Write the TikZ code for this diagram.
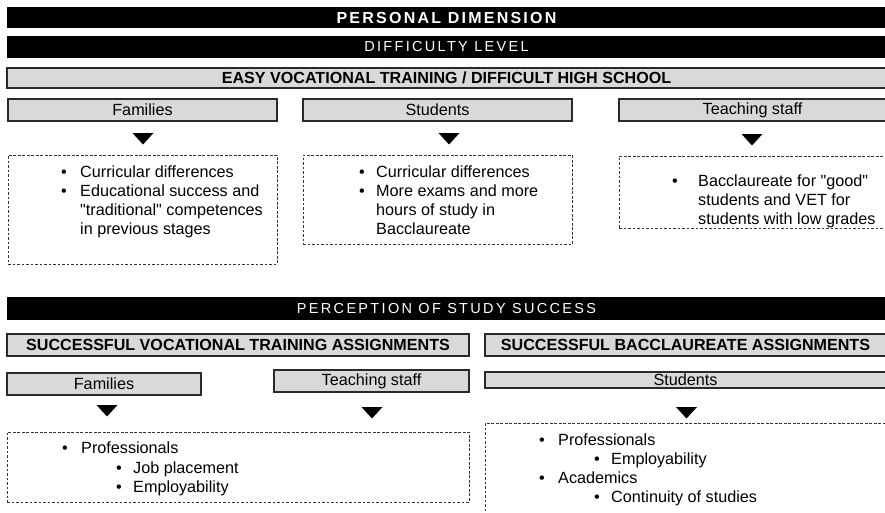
\documentclass[tikz,border=0pt]{standalone}
\usepackage{fontspec}
\setmainfont{Liberation Sans}[Ligatures=TeXOff]
\newfontfamily\spacedA{Liberation Sans}[LetterSpace=14]
\newfontfamily\spacedB{Liberation Sans}[LetterSpace=16]
\definecolor{boxfill}{HTML}{D9D9D9}
\definecolor{boxline}{HTML}{2A2A2A}
\definecolor{dashline}{HTML}{333333}
\tikzset{
  blackbar/.style={fill=black,text=white,inner sep=0pt,minimum width=879pt},
  graybox/.style={draw=boxline,line width=1.2pt,fill=boxfill,inner sep=0pt,font=\fontsize{16.2}{19}\selectfont},
  grayhead/.style={graybox,font=\fontsize{16.1}{19}\selectfont\bfseries},
  dashbox/.style={draw=dashline,line width=0.9pt,dash pattern=on 2.8pt off 1.7pt,inner sep=0pt},
  txt/.style={anchor=base west,inner sep=0pt,font=\fontsize{16.2}{19}\selectfont},
  marker/.style={fill=black}
}
\newcommand\marktri[1]{\fill[marker] ([xshift=-10.5pt]#1) -- ([xshift=10.5pt]#1) -- ([yshift=-11.5pt]#1) -- cycle;}
\begin{document}
\begin{tikzpicture}[x=1pt,y=-1pt]
\useasboundingbox (0,0) rectangle (885,512);
\clip (0,0) rectangle (885,512);
% black bars
\node[blackbar,minimum height=21pt,font=\fontsize{16}{18}\selectfont\spacedA\bfseries] (pd) at (446.5,17.5) {PERSONAL DIMENSION};
\node[blackbar,minimum height=22pt,font=\fontsize{14.5}{16}\selectfont\spacedB] (dl) at (446.5,47) {DIFFICULTY LEVEL};
\node[blackbar,minimum height=23pt,font=\fontsize{14.5}{16}\selectfont\spacedB] (ps) at (446.5,308.5) {PERCEPTION OF STUDY SUCCESS};
% gray headers
\node[grayhead,minimum width=879pt,minimum height=20pt] (easy) at (446.5,78) {EASY VOCATIONAL TRAINING / DIFFICULT HIGH SCHOOL};
\node[graybox,minimum width=269pt,minimum height=22pt] (fam1) at (142.5,110) {Families};
\node[graybox,minimum width=269pt,minimum height=22pt] (stu1) at (437.5,110) {Students};
\node[graybox,minimum width=267pt,minimum height=22pt] (tea1) at (752.5,110) {Teaching staff};
\node[grayhead,minimum width=462pt,minimum height=22pt] (svt) at (238,345) {SUCCESSFUL VOCATIONAL TRAINING ASSIGNMENTS};
\node[grayhead,minimum width=401pt,minimum height=22pt] (sba) at (685.5,345) {SUCCESSFUL BACCLAUREATE ASSIGNMENTS};
\node[graybox,minimum width=194pt,minimum height=22pt] (fam2) at (104,384) {Families};
\node[graybox,minimum width=195pt,minimum height=22pt] (tea2) at (371.5,381) {Teaching staff};
\node[graybox,minimum width=401pt,minimum height=16pt] (stu2) at (685.5,380) {Students};
% markers
\coordinate (m1) at (143,133);
\coordinate (m2) at (449,133);
\coordinate (m3) at (752,134);
\coordinate (m4) at (107,405);
\coordinate (m5) at (372,407);
\coordinate (m6) at (686.5,407);
\marktri{m1}\marktri{m2}\marktri{m3}\marktri{m4}\marktri{m5}\marktri{m6}
% dashed boxes
\node[dashbox,minimum width=269pt,minimum height=109pt] (d1) at (142.5,209.5) {};
\node[dashbox,minimum width=269pt,minimum height=89.5pt] (d2) at (437.5,199.75) {};
\node[dashbox,minimum width=267pt,minimum height=72pt] (d3) at (752.5,192) {};
\node[dashbox,minimum width=462pt,minimum height=70pt] (d4) at (238,467) {};
\node[dashbox,minimum width=401pt,minimum height=107pt] (d5) at (685.5,476.5) {};
% box 1
\node[txt] (b1a) at (61,177) {•};
\node[txt] (l1a) at (80,177) {Curricular differences};
\node[txt] (b1b) at (61,196) {•};
\node[txt] (l1b) at (80,196) {Educational success and};
\node[txt] (l1c) at (80,215) {"traditional" competences};
\node[txt] (l1d) at (80,234) {in previous stages};
% box 2
\node[txt] (b2a) at (359,177) {•};
\node[txt] (l2a) at (376,177) {Curricular differences};
\node[txt] (b2b) at (359,196) {•};
\node[txt] (l2b) at (376,196) {More exams and more};
\node[txt] (l2c) at (376,215) {hours of study in};
\node[txt] (l2d) at (376,234) {Bacclaureate};
% box 3
\node[txt] (b3a) at (672,186) {•};
\node[txt] (l3a) at (698,186) {Bacclaureate for "good"};
\node[txt] (l3b) at (698,205) {students and VET for};
\node[txt] (l3c) at (698,224) {students with low grades};
% box 4
\node[txt] (b4a) at (62,453) {•};
\node[txt] (l4a) at (81,453) {Professionals};
\node[txt] (b4b) at (116,473) {•};
\node[txt] (l4b) at (133,473) {Job placement};
\node[txt] (b4c) at (116,492) {•};
\node[txt] (l4c) at (133,492) {Employability};
% box 5
\node[txt] (b5a) at (539,445) {•};
\node[txt] (l5a) at (558,445) {Professionals};
\node[txt] (b5b) at (594,464) {•};
\node[txt] (l5b) at (611,464) {Employability};
\node[txt] (b5c) at (539,483) {•};
\node[txt] (l5c) at (558,483) {Academics};
\node[txt] (b5d) at (594,502) {•};
\node[txt] (l5d) at (611,502) {Continuity of studies};
\end{tikzpicture}
\end{document}
